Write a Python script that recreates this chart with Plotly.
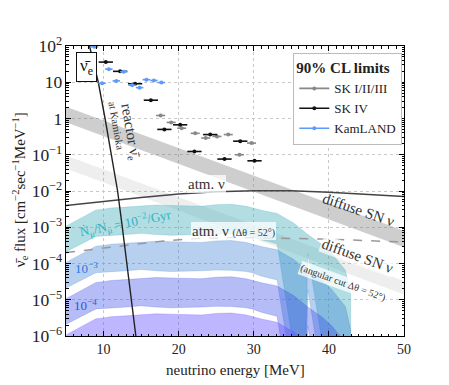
import plotly.graph_objects as go

# --- measured limits (90% CL) ---
SK4_E = [10.3, 12.2, 14.2, 16.3, 18.1, 20.2, 22.1, 24.2, 26.1, 28.2, 30.1]
SK4_FLUX = [36, 20, 9.1, 3.2, 0.50, 0.67, 0.123, 0.36, 0.076, 0.237, 0.068]
SK123_E = [17.6, 19.0, 20.4, 22.2, 23.6, 25.1, 26.6, 28.1, 29.7]
SK123_FLUX = [1.21, 0.78, 0.54, 0.39, 0.29, 0.32, 0.36, 0.10, 0.21]
KL_E = [8.8, 9.8, 10.7, 11.7, 12.7, 13.8, 14.8, 15.7, 16.7, 17.7]
KL_FLUX = [95, 9.4, 23, 10.9, 19.6, 8.3, 7.1, 11.8, 11.2, 9.8]

# --- backgrounds ---
REACTOR_E = [8.13, 9.3, 10.2, 11.05, 11.87, 12.5, 13.1, 13.7, 14.3]
REACTOR_FLUX = [1e2, 1e1, 1e0, 1e-1, 1e-2, 1e-3, 1e-4, 1e-5, 1e-6]

ATM_E = [5, 10, 15, 20, 25, 30, 35, 40, 45, 50]
ATM_FLUX = [4.0e-3, 5.2e-3, 6.6e-3, 8.3e-3, 9.5e-3, 1.02e-2, 1.02e-2, 9.3e-3, 8.1e-3, 7.0e-3]
ATM_CUT_E = [5, 9, 13.6, 18, 22.4, 27, 31, 40, 50]
ATM_CUT_FLUX = [2.0e-4, 2.5e-4, 3.3e-4, 4.2e-4, 4.9e-4, 5.2e-4, 5.1e-4, 4.7e-4, 3.9e-4]

DSN_E = [5, 20, 35, 50]
DSN_HI = [2.1, 0.15, 1.1e-2, 8.0e-4]
DSN_LO = [0.79, 5.5e-2, 4.0e-3, 2.8e-4]
DSN_CUT_HI = [9.5e-2, 6.8e-3, 4.8e-4, 3.3e-5]
DSN_CUT_LO = [4.2e-2, 2.9e-3, 2.0e-4, 1.4e-5]

# --- muon-decay signal bands, flux for Ndot/N = 1e-2 / Gyr ---
BAND_E = [5, 6, 7, 8, 9, 10, 11, 13, 15, 17, 19, 21, 23, 25, 27, 29, 29.8, 31,
          33.1, 35.3, 36.9, 37.2, 39.2, 40.4, 42.2, 42.9, 42.95]
BAND_HI = [1.07e-3, 1.38e-3, 1.78e-3, 2.34e-3, 3.0e-3, 3.16e-3, 3.4e-3, 3.6e-3,
           3.9e-3, 4.1e-3, 4.0e-3, 3.9e-3, 3.8e-3, 4.2e-3, 4.3e-3, 3.8e-3, 3.4e-3,
           2.95e-3, 2.4e-3, 1.3e-3, 7.1e-4, 6.3e-4, 3.2e-4, 1.9e-4, 6.5e-5, 1.5e-5, 1e-12]
BAND_LO = [2.1e-4, 2.7e-4, 3.5e-4, 4.4e-4, 5.6e-4, 5.9e-4, 6.0e-4, 6.3e-4, 6.8e-4,
           6.3e-4, 6.0e-4, 6.2e-4, 6.3e-4, 6.6e-4, 6.5e-4, 6.0e-4, 5.6e-4, 4.5e-4,
           3.5e-4, 5e-7, 5e-7, 1.9e-4, 5e-7, 1e-12, 1e-12, 1e-12, 1e-12]
RATES = [1e-2, 1e-3, 1e-4, 1e-5]
RATE_FILLS = ["rgba(60,170,185,0.40)", "rgba(50,120,210,0.35)",
              "rgba(50,70,230,0.36)", "rgba(100,80,255,0.42)"]

fig = go.Figure()


def band(x, lo, hi, color, edge=0.6):
    fig.add_trace(go.Scatter(
        x=list(x) + list(x)[::-1], y=list(hi) + list(lo)[::-1],
        fill="toself", fillcolor=color, mode="lines",
        line=dict(color=color, width=edge), hoverinfo="skip", showlegend=False,
    ))


band(DSN_E, DSN_LO, DSN_HI, "rgba(120,120,120,0.36)", edge=0)
band(DSN_E, DSN_CUT_LO, DSN_CUT_HI, "rgba(120,120,120,0.13)", edge=0)

for rate, color in zip(RATES, RATE_FILLS):
    scale = rate / RATES[0]
    band(BAND_E, [v * scale for v in BAND_LO], [v * scale for v in BAND_HI], color)

fig.add_trace(go.Scatter(x=ATM_E, y=ATM_FLUX, mode="lines",
                         line=dict(color="#444", width=1.5), showlegend=False))
fig.add_trace(go.Scatter(x=ATM_CUT_E, y=ATM_CUT_FLUX, mode="lines",
                         line=dict(color="#999", width=1.5, dash="dash"), showlegend=False))
fig.add_trace(go.Scatter(x=REACTOR_E, y=REACTOR_FLUX, mode="lines",
                         line=dict(color="#222", width=1.4), showlegend=False))


def limits(x, y, err, color, name):
    fig.add_trace(go.Scatter(
        x=x, y=y, mode="markers", marker=dict(color=color, size=4),
        error_x=dict(type="constant", value=err, color=color, thickness=1.6, width=0),
        showlegend=False,
    ))
    fig.add_trace(go.Scatter(
        x=[None], y=[None], mode="lines+markers", name=name,
        marker=dict(color=color, size=4), line=dict(color=color, width=1.6),
    ))


limits(SK123_E, SK123_FLUX, 0.6, "#888888", "SK I/II/III")
limits(SK4_E, SK4_FLUX, 0.95, "#111111", "SK IV")
limits(KL_E, KL_FLUX, 0.5, "#5b9bff", "KamLAND")

serif = "Liberation Serif"


def label(x, y, text, size=14, angle=0, color="#333", bg=None, border=None):
    fig.add_annotation(
        x=x, y=y, xref="x", yref="y", text=text, showarrow=False, textangle=angle,
        font=dict(family=serif, size=size, color=color),
        bgcolor=bg, bordercolor=border, borderwidth=1 if border else 0, borderpad=3 if border else 1,
    )


label(7.73, 1.43, "ν̄<sub>e</sub>", size=17, color="#111", bg="white", border="#111")
label(13.5, -0.38, "reactor ν̄<sub>e</sub>", size=15, angle=80)
label(11.67, -0.19, "at Kamioka", size=10.5, angle=80)
label(23.73, -1.815, "atm. ν", size=15, bg="rgba(255,255,255,0.75)")
label(27.3, -3.11, "atm. ν <span style='font-size:10px'>(Δθ = 52°)</span>",
      size=15, bg="rgba(255,255,255,0.75)")
label(44.0, -2.53, "diffuse SN ν", size=15, angle=19)
label(43.87, -3.80, "diffuse SN ν", size=15, angle=20, bg="rgba(255,255,255,0.7)")
label(41.87, -4.55, "(angular cut Δθ = 52°)", size=10, angle=20, bg="rgba(255,255,255,0.75)")
label(12.93, -2.89, "Ṅ<sub>μ</sub>/N<sub>μ</sub> = 10<sup>−2</sup>/Gyr", size=13, angle=-11, color="#2fb2c3")
label(7.73, -4.13, "10<sup>−3</sup>", size=13, color="#2a78dc")
label(7.6, -5.15, "10<sup>−4</sup>", size=13, color="#3550e0")

# axis titles placed as paper annotations
fig.add_annotation(x=-0.136, y=0.503, xref="paper", yref="paper", showarrow=False, textangle=-90,
                   xanchor="center", yanchor="middle",
                   text="ν̄<sub>e</sub> flux [cm<sup>−2</sup>sec<sup>−1</sup>MeV<sup>−1</sup>]",
                   font=dict(family=serif, size=15, color="#222"))
fig.add_annotation(x=0.5, y=-0.117, xref="paper", yref="paper", showarrow=False,
                   xanchor="center", yanchor="middle",
                   text="neutrino energy [MeV]", font=dict(family=serif, size=15, color="#222"))

axis_common = dict(
    showline=True, linecolor="black", linewidth=1, mirror="allticks",
    ticks="inside", ticklen=5, tickcolor="black", automargin=False,
    showgrid=True, gridcolor="#c8c8c8", griddash="dot", gridwidth=1,
    zeroline=False, tickfont=dict(family=serif, size=14, color="#222"),
)
fig.update_xaxes(range=[5, 50], dtick=10, **axis_common,
                 minor=dict(dtick=1, ticks="inside", ticklen=2.5, tickcolor="black", showgrid=False))
fig.update_yaxes(type="log", range=[-6, 2], dtick=1, exponentformat="power", **axis_common,
                 minor=dict(ticks="inside", ticklen=2.5, tickcolor="black", showgrid=False))

fig.update_layout(
    width=449, height=385,
    margin=dict(l=58, r=53, t=38, b=57),
    plot_bgcolor="white", paper_bgcolor="white",
    font=dict(family=serif, color="#222"),
    legend=dict(
        title=dict(text="<b>90% CL limits</b>", font=dict(family=serif, size=15)),
        x=0.995, y=0.976, xanchor="right", yanchor="top",
        bgcolor="white", bordercolor="#bbbbbb", borderwidth=1,
        font=dict(family=serif, size=13), itemwidth=30, tracegroupgap=0,
    ),
)

fig.write_html("out.html")
